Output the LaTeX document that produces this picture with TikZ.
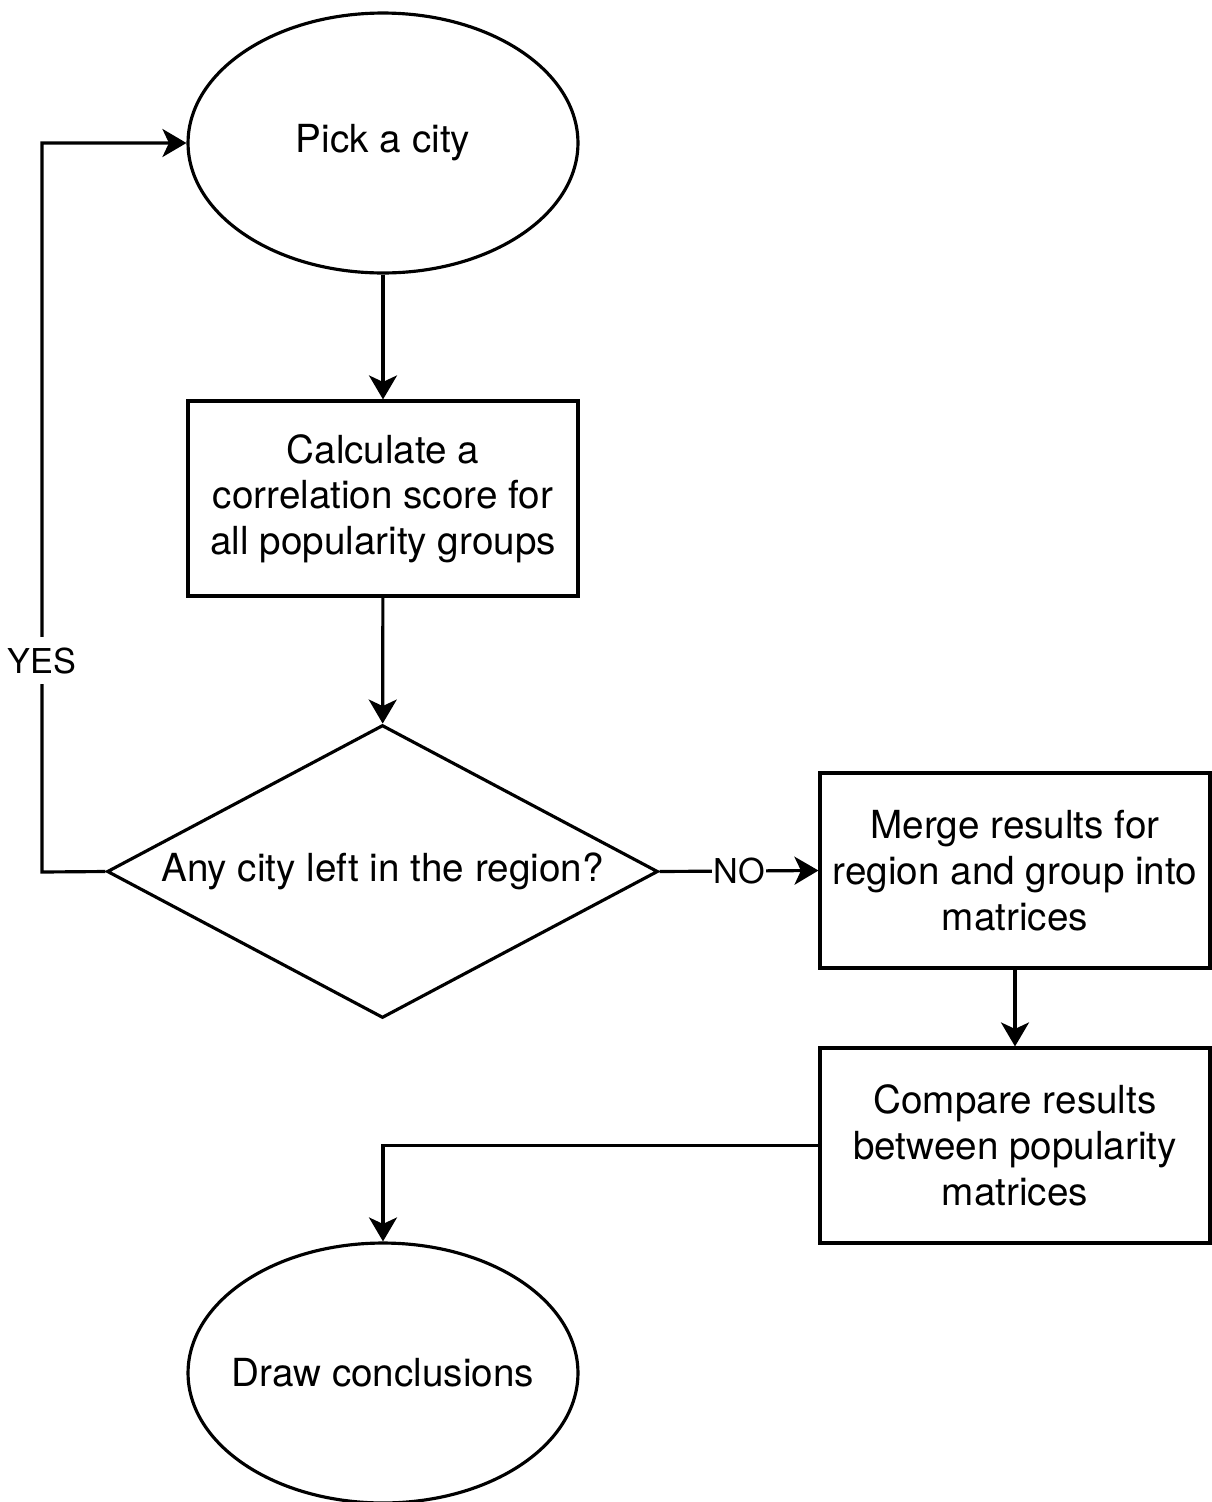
\documentclass[tikz,border=0pt]{standalone}
\usepackage{fontspec}
\setmainfont{TeX Gyre Heros}
\usepackage{tikz}
\usetikzlibrary{shapes.geometric,arrows.meta,positioning}

\begin{document}
\begin{tikzpicture}[
    x=0.02cm, y=-0.02cm,
    every node/.style={font=\fontsize{22}{26}\selectfont, align=center},
    terminal/.style={draw, ellipse, line width=1.8pt, inner xsep=-0.5cm, inner ysep=0pt,
                     minimum width=7.8cm, minimum height=5.2cm},
    process/.style={draw, rectangle, line width=1.8pt, inner sep=0pt,
                    minimum width=7.8cm, minimum height=3.9cm},
    decision/.style={draw, diamond, aspect=1.88, line width=1.8pt, inner sep=0pt,
                     minimum width=11.02cm, minimum height=5.86cm},
    arr/.style={-{Stealth[length=0.48cm, width=0.56cm, inset=0.13cm]}, line width=1.8pt},
    lbl/.style={fill=white, inner xsep=1pt, inner ysep=6pt,
                font=\fontsize{19.5}{24}\selectfont},
  ]
  \useasboundingbox (0,0) rectangle (1212,1502);

  % Start
  \node[terminal] (pick) at (383,143) {Pick a city};
  % Score per city
  \node[process] (calc) at (383,498.5) {Calculate a\\correlation score for\\all popularity groups};
  % Loop check
  \node[decision] (check) at (382.5,871.5) {Any city left in the region?};
  % Merge and compare
  \node[process] (merge) at (1015,870.5) {Merge results for\\region and group into\\matrices};
  \node[process] (compare) at (1015,1145.5) {Compare results\\between popularity\\matrices};
  % End
  \node[terminal] (concl) at (383,1373) {Draw conclusions};

  % Arrows
  \coordinate (loopb) at (42,872);
  \coordinate (loopt) at (42,143);
  \draw[arr] (pick) -- (calc);
  \draw[arr] (calc) -- (check);
  \draw[arr] (check.west) -- (loopb) -- node[lbl, pos=0.29] (yes) {YES} (loopt) -- (pick.west);
  \draw[arr] (check.east) -- node[lbl] (no) {NO} (merge.west);
  \draw[arr] (merge) -- (compare);
  \draw[arr] (compare.west) -| (concl.north);
\end{tikzpicture}
\end{document}
